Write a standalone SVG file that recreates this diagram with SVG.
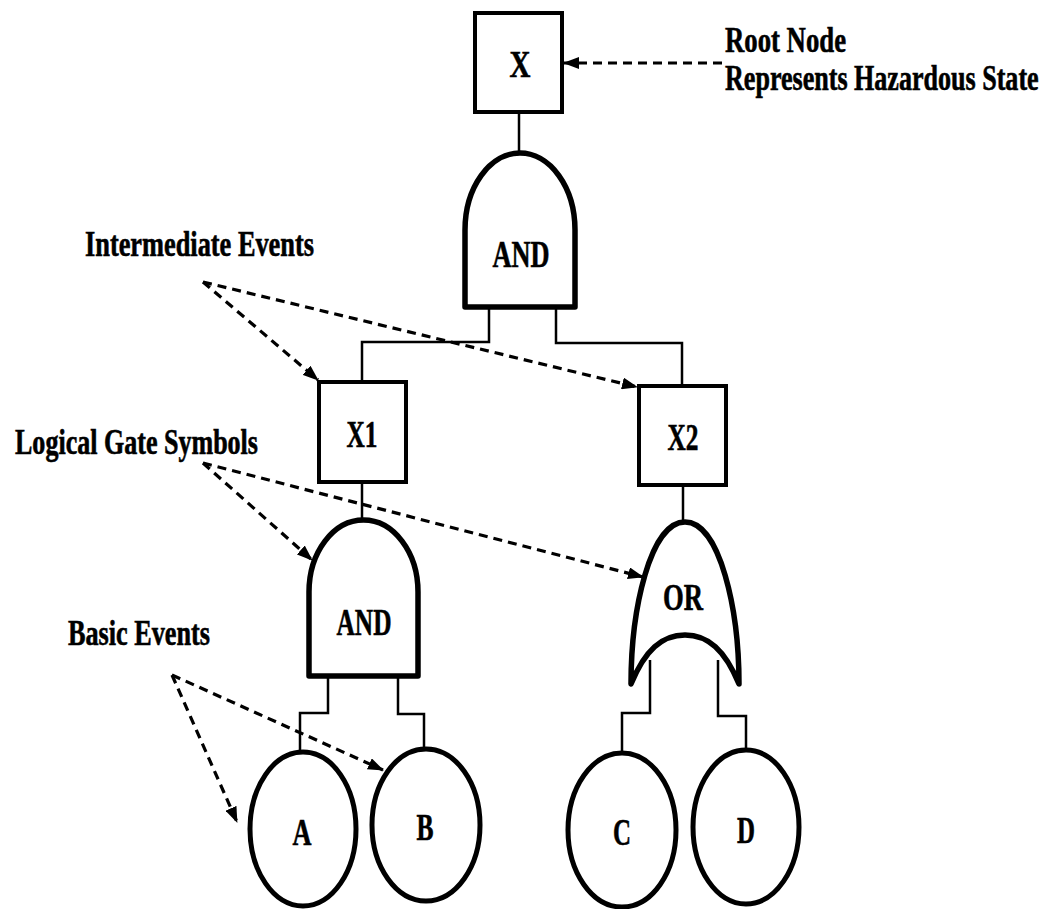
<svg xmlns="http://www.w3.org/2000/svg" width="1050" height="909" viewBox="0 0 1050 909">
<style>
  .bg { fill: #ffffff; }
  .box { fill: #ffffff; stroke: #000; stroke-width: 4; }
  .gate { fill: #ffffff; stroke: #000; stroke-width: 5.5; stroke-linejoin: round; }
  .ev { fill: #ffffff; stroke: #000; stroke-width: 5; }
  .wire { fill: none; stroke: #000; stroke-width: 2.5; }
  .dash { fill: none; stroke: #000; stroke-width: 3.2; stroke-dasharray: 9 6; }
  .t { font-family: "Liberation Serif", "Times New Roman", serif; font-weight: bold; fill: #000; stroke: #000; stroke-width: 0.6; }
  .node { font-size: 37px; text-anchor: middle; }
  .note { font-size: 35px; }
</style>
<defs>
  <marker id="ah" viewBox="0 0 16 12" refX="15" refY="6" markerWidth="16" markerHeight="12" markerUnits="userSpaceOnUse" orient="auto">
    <path d="M0,0 L16,6 L0,12 Z" fill="#000"/>
  </marker>
</defs>
<rect class="bg" x="0" y="0" width="1050" height="909"/>

<g id="connectors">
  <path class="wire" d="M519,112 V152"/>
  <path class="wire" d="M489,307 V342 H362 V382"/>
  <path class="wire" d="M556,307 V343 H682 V386"/>
  <path class="wire" d="M362,482 V520"/>
  <path class="wire" d="M683,485 V522"/>
  <path class="wire" d="M328,676 V713 H300 V752"/>
  <path class="wire" d="M398,676 V714 H424 V749"/>
  <path class="wire" d="M650,660 V713 H622 V753"/>
  <path class="wire" d="M718,660 V716 H746 V750"/>
  <path class="dash" d="M722,63 L564,63" marker-end="url(#ah)"/>
  <path class="dash" d="M203,282 L318,380" marker-end="url(#ah)"/>
  <path class="dash" d="M203,282 L637,387" marker-end="url(#ah)"/>
  <path class="dash" d="M203,463 L312,560" marker-end="url(#ah)"/>
  <path class="dash" d="M203,463 L643,577" marker-end="url(#ah)"/>
  <path class="dash" d="M172,675 L237,822" marker-end="url(#ah)"/>
  <path class="dash" d="M172,675 L383,770" marker-end="url(#ah)"/>
</g>

<g id="node-X">
  <rect class="box" x="475" y="13" width="87" height="99"/>
  <text class="t node" x="520" y="77" textLength="21" lengthAdjust="spacingAndGlyphs">X</text>
</g>

<g id="gate-AND-top">
  <path class="gate" d="M465,307 V230 A55,77 0 0 1 575,230 V307 Z"/>
  <text class="t node" x="521" y="267" textLength="57" lengthAdjust="spacingAndGlyphs">AND</text>
</g>

<g id="node-X1">
  <rect class="box" x="319" y="382" width="87" height="100"/>
  <text class="t node" x="362" y="447" textLength="31" lengthAdjust="spacingAndGlyphs">X1</text>
</g>

<g id="node-X2">
  <rect class="box" x="639" y="386" width="87" height="99"/>
  <text class="t node" x="683" y="450" textLength="31" lengthAdjust="spacingAndGlyphs">X2</text>
</g>

<g id="gate-AND-left">
  <path class="gate" d="M309,676 V592 A54.5,72 0 0 1 418,592 V676 Z"/>
  <text class="t node" x="364" y="635" textLength="55" lengthAdjust="spacingAndGlyphs">AND</text>
</g>

<g id="gate-OR">
  <path class="gate" d="M631,684 C631,610 650,522 685,522 C720,522 739,610 739,684 C725,650 708,635 685,635 C662,635 645,650 631,684 Z"/>
  <text class="t node" x="683" y="610" textLength="40" lengthAdjust="spacingAndGlyphs">OR</text>
</g>

<g id="event-A">
  <ellipse class="ev" cx="303" cy="829" rx="53" ry="77"/>
  <text class="t node" x="302" y="845" textLength="19" lengthAdjust="spacingAndGlyphs">A</text>
</g>
<g id="event-B">
  <ellipse class="ev" cx="426" cy="825" rx="54" ry="76"/>
  <text class="t node" x="425" y="840" textLength="17" lengthAdjust="spacingAndGlyphs">B</text>
</g>
<g id="event-C">
  <ellipse class="ev" cx="622" cy="830" rx="54" ry="77"/>
  <text class="t node" x="622" y="845" textLength="18" lengthAdjust="spacingAndGlyphs">C</text>
</g>
<g id="event-D">
  <ellipse class="ev" cx="746" cy="827" rx="53" ry="77"/>
  <text class="t node" x="746" y="843" textLength="18" lengthAdjust="spacingAndGlyphs">D</text>
</g>

<g id="label-root">
  <text class="t note" x="725" y="52" textLength="121" lengthAdjust="spacingAndGlyphs">Root Node</text>
  <text class="t note" transform="translate(725,90) scale(0.745,1)" x="0" y="0" textLength="421" lengthAdjust="spacingAndGlyphs">Represents Hazardous State</text>
</g>
<g id="label-intermediate">
  <text class="t note" x="85" y="256" textLength="229" lengthAdjust="spacingAndGlyphs">Intermediate Events</text>
</g>
<g id="label-gates">
  <text class="t note" x="15" y="454" textLength="243" lengthAdjust="spacingAndGlyphs">Logical Gate Symbols</text>
</g>
<g id="label-basic">
  <text class="t note" x="68" y="645" textLength="142" lengthAdjust="spacingAndGlyphs">Basic Events</text>
</g>
</svg>
